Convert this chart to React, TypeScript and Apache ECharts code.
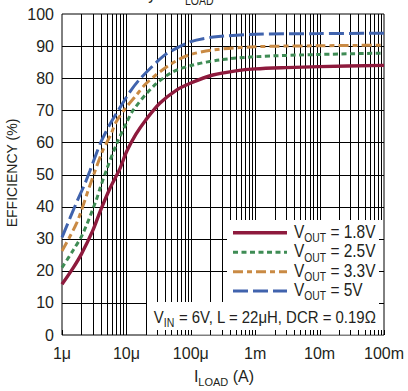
import React, { useEffect, useRef } from 'react';
import * as echarts from 'echarts';

// ---- data (load current in A, efficiency in %) ----
const vout18: [number, number][] = [
  [1e-6, 15.8], [1.5e-6, 21], [2e-6, 25.2], [3e-6, 32.5], [4e-6, 39], [5.5e-6, 45.5],
  [8e-6, 52], [1e-5, 57], [1.4e-5, 62.5], [2e-5, 67], [3.3e-5, 72.2], [6e-5, 76.3],
  [1e-4, 78.5], [2.2e-4, 81], [5e-4, 82.3], [1e-3, 82.9], [3e-3, 83.3], [1e-2, 83.6], [1e-1, 84],
];
const vout25: [number, number][] = [
  [1e-6, 21], [1.5e-6, 26.5], [2.1e-6, 31.5], [3.4e-6, 42], [3.9e-6, 45.7], [4.9e-6, 51.4],
  [7.1e-6, 59.7], [1e-5, 66], [1.28e-5, 70.1], [2.6e-5, 77.4], [5.3e-5, 82], [1.08e-4, 84.1],
  [2.8e-4, 85.7], [1e-3, 86.7], [1e-2, 87.4], [1e-1, 87.8],
];
const vout33: [number, number][] = [
  [1e-6, 26.2], [1.7e-6, 35], [2.7e-6, 46.5], [4.3e-6, 57.5], [5.6e-6, 62], [7e-6, 66.5],
  [1e-5, 71], [1.4e-5, 74.5], [2.06e-5, 78.5], [4.2e-5, 83.5], [8.7e-5, 87], [2.24e-4, 88.8],
  [1e-3, 89.8], [1e-2, 90.1], [1e-1, 90.3],
];
const vout50: [number, number][] = [
  [1e-6, 30.4], [1.7e-6, 41.5], [2.2e-6, 46.5], [2.7e-6, 51], [4e-6, 60], [5.5e-6, 65.5],
  [7.5e-6, 70], [1.14e-5, 75.8], [1.63e-5, 79.8], [2.95e-5, 85], [4.2e-5, 87.6], [9.7e-5, 91.3],
  [2.24e-4, 92.8], [1e-3, 93.7], [1e-2, 93.9], [1e-1, 94],
];
const seriesLabels = ['1.8V', '2.5V', '3.3V', '5V'];
const xTickLabels = ['1μ', '10μ', '100μ', '1m', '10m', '100m'];
const xDecades = [-6, -5, -4, -3, -2];
const xMultipliers = [1, 2, 3, 4, 5, 6, 7, 8, 9];
const yGridValues = [10, 20, 30, 40, 50, 60, 70, 80, 90];
const X_MIN = 1e-6;
const X_MAX = 1e-1;
const Y_MIN = 0;
const Y_MAX = 100;

const colors = ['#8e1a3d', '#3f8c55', '#c98a44', '#4063ad'];
const dashes: (string | number[])[] = ['solid', [5, 3.5], [10, 4, 5, 4], [15, 5]];
const widths = [3.4, 3, 3, 3];

const REG = "'Liberation Sans', Arial, sans-serif";
const TXT = '#231f20';
const COND = 0.86;

const xAllTicks: number[] = [];
xDecades.forEach((d) => xMultipliers.forEach((m) => xAllTicks.push(m * Math.pow(10, d))));
xAllTicks.push(X_MAX);
const xInnerGrid = xAllTicks.filter((v) => v > X_MIN * 1.01 && v < X_MAX * 0.99);

const crisp = (v: number) => Math.round(v) + 0.5;

export default function App() {
  const ref = useRef<HTMLDivElement>(null);
  useEffect(() => {
    if (!ref.current) return;
    const chart = echarts.init(ref.current, undefined, { renderer: 'svg' });
    const curves = [vout18, vout25, vout33, vout50];

    const legendGraphics: any[] = [];
    const legendY = [232.7, 252.2, 271.7, 291];
    seriesLabels.forEach((lab, i) => {
      legendGraphics.push({
        type: 'line',
        z: 10,
        shape: { x1: 233, y1: legendY[i], x2: 287, y2: legendY[i] },
        style: {
          stroke: colors[i],
          lineWidth: widths[i],
          lineDash: dashes[i] === 'solid' ? null : (dashes[i] as number[]),
        },
      });
      legendGraphics.push({
        type: 'text',
        z: 10,
        x: 294,
        y: legendY[i] - 1,
        scaleX: COND,
        style: {
          text: `{v|V}{s|OUT}{v| = ${lab}}`,
          verticalAlign: 'middle',
          align: 'left',
          fill: TXT,
          rich: {
            v: { fontSize: 18, fontFamily: REG, lineHeight: 24, verticalAlign: 'middle', fill: TXT },
            s: { fontSize: 12, fontFamily: REG, lineHeight: 12, verticalAlign: 'bottom', fill: TXT },
          },
        },
      });
    });

    chart.setOption({
      animation: false,
      backgroundColor: '#fff',
      grid: { left: 62, right: 24, top: 14, bottom: 56, show: true, borderColor: '#000', borderWidth: 1, z: 0 },
      xAxis: {
        type: 'log',
        logBase: 10,
        min: X_MIN,
        max: X_MAX,
        splitNumber: 5,
        axisLine: { show: false },
        axisTick: { show: false },
        splitLine: { show: false },
        minorTick: { show: false },
        axisLabel: {
          margin: 10,
          fontSize: 16,
          fontFamily: REG,
          color: TXT,
          formatter: (v: number) => xTickLabels[Math.round(Math.log10(v)) + 6] ?? '',
        },
      },
      yAxis: {
        type: 'value',
        min: Y_MIN,
        max: Y_MAX,
        interval: 10,
        axisLine: { show: false },
        axisTick: { show: false },
        splitLine: { show: false },
        axisLabel: { margin: 8, fontSize: 16, fontFamily: REG, color: TXT },
      },
      graphic: [
        { type: 'rect', z: 2, shape: { x: 227, y: 220, width: 156, height: 83 }, style: { fill: '#fff' } },
        { type: 'rect', z: 2, shape: { x: 147, y: 302, width: 236, height: 32.5 }, style: { fill: '#fff' } },
        ...legendGraphics,
        {
          type: 'text',
          z: 10,
          x: 265,
          y: 317,
          scaleX: 0.88,
          style: {
            text: '{v|V}{s|IN}{v| = 6V, L = 22μH, DCR = 0.19Ω}',
            align: 'center',
            verticalAlign: 'middle',
            fill: TXT,
            rich: {
              v: { fontSize: 17, fontFamily: REG, lineHeight: 24, verticalAlign: 'middle', fill: TXT },
              s: { fontSize: 12, fontFamily: REG, lineHeight: 12, verticalAlign: 'bottom', fill: TXT },
            },
          },
        },
        {
          type: 'text',
          z: 10,
          x: 224,
          y: 376,
          style: {
            text: '{v|I}{s|LOAD}{v| (A)}',
            align: 'center',
            verticalAlign: 'middle',
            fill: TXT,
            rich: {
              v: { fontSize: 16, fontFamily: REG, lineHeight: 22, verticalAlign: 'middle', fill: TXT },
              s: { fontSize: 11, fontFamily: REG, lineHeight: 11, verticalAlign: 'bottom', fill: TXT },
            },
          },
        },
        {
          type: 'text',
          z: 10,
          x: 12,
          y: 173,
          rotation: Math.PI / 2,
          style: {
            text: 'EFFICIENCY (%)',
            align: 'center',
            verticalAlign: 'middle',
            fontSize: 14,
            fontFamily: REG,
            fill: TXT,
          },
        },
        {
          type: 'text',
          z: 10,
          x: 89,
          y: -7.1,
          scaleX: 0.875,
          style: {
            text: '{m|Efficiency vs I}{s|LOAD}',
            align: 'left',
            verticalAlign: 'middle',
            fill: TXT,
            rich: {
              m: { fontSize: 18, fontFamily: REG, lineHeight: 27, verticalAlign: 'middle', fill: TXT },
              s: { fontSize: 12, fontFamily: REG, lineHeight: 12, verticalAlign: 'bottom', fill: TXT },
            },
          },
        },
      ],
      series: [
        {
          type: 'custom',
          name: 'vgrid',
          z: 1,
          silent: true,
          clip: false,
          data: xInnerGrid.map((v) => [v, Y_MIN]),
          renderItem: (_p: any, api: any) => {
            const a = api.coord([api.value(0), Y_MIN]);
            const b = api.coord([api.value(0), Y_MAX]);
            const x = crisp(a[0]);
            return { type: 'line', shape: { x1: x, y1: a[1], x2: x, y2: b[1] }, style: { stroke: '#000', lineWidth: 1 } };
          },
        },
        {
          type: 'custom',
          name: 'hgrid',
          z: 1,
          silent: true,
          clip: false,
          data: yGridValues.map((v) => [X_MIN, v]),
          renderItem: (_p: any, api: any) => {
            const a = api.coord([X_MIN, api.value(1)]);
            const b = api.coord([X_MAX, api.value(1)]);
            const y = crisp(a[1]);
            return { type: 'line', shape: { x1: a[0], y1: y, x2: b[0], y2: y }, style: { stroke: '#000', lineWidth: 1 } };
          },
        },
        {
          type: 'custom',
          name: 'xticks',
          z: 3,
          silent: true,
          clip: false,
          data: xAllTicks.map((v) => [v, Y_MIN]),
          renderItem: (_p: any, api: any) => {
            const a = api.coord([api.value(0), Y_MIN]);
            const x = crisp(a[0]);
            return { type: 'line', shape: { x1: x, y1: a[1], x2: x, y2: a[1] - 5 }, style: { stroke: '#000', lineWidth: 1 } };
          },
        },
        {
          type: 'custom',
          name: 'yticks',
          z: 3,
          silent: true,
          clip: false,
          data: yGridValues.map((v) => [X_MAX, v]),
          renderItem: (_p: any, api: any) => {
            const a = api.coord([X_MAX, api.value(1)]);
            const y = crisp(a[1]);
            return { type: 'line', shape: { x1: a[0], y1: y, x2: a[0] - 5, y2: y }, style: { stroke: '#000', lineWidth: 1 } };
          },
        },
        ...curves.map((d, i) => ({
          type: 'line',
          name: 'VOUT = ' + seriesLabels[i],
          z: 5,
          data: d,
          smooth: 0.3,
          showSymbol: false,
          symbol: 'none',
          lineStyle: { color: colors[i], width: widths[i], type: dashes[i] },
        })),
      ],
    });
    return () => chart.dispose();
  }, []);
  return <div ref={ref} style={{ position: 'fixed', left: 0, top: 0, width: 408, height: 391 }} />;
}
